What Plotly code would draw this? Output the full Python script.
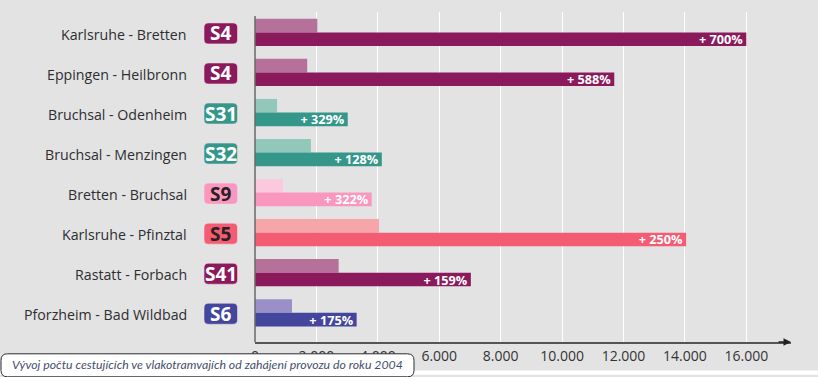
import plotly.graph_objects as go

routes = ["Karlsruhe - Bretten", "Eppingen - Heilbronn", "Bruchsal - Odenheim", "Bruchsal - Menzingen",
          "Bretten - Bruchsal", "Karlsruhe - Pfinztal", "Rastatt - Forbach", "Pforzheim - Bad Wildbad"]
lines = ["S4", "S4", "S31", "S32", "S9", "S5", "S41", "S6"]
before = [2030, 1700, 720, 1820, 910, 4040, 2725, 1205]
after = [16000, 11700, 3020, 4130, 3800, 14040, 7030, 3310]
growth = ["+ 700%", "+ 588%", "+ 329%", "+ 128%", "+ 322%", "+ 250%", "+ 159%", "+ 175%"]
dark = ["#8b1a5c", "#8b1a5c", "#35978a", "#35978a", "#f997bf", "#f35c72", "#8b1a5c", "#43469c"]
light = ["#b5719a", "#b5719a", "#92c8b9", "#92c8b9", "#fbc8dc", "#f6a5a8", "#b5719a", "#9a8fc6"]
badge_text = ["#ffffff", "#ffffff", "#ffffff", "#ffffff", "#2b2024", "#2b2024", "#ffffff", "#ffffff"]
ticks = [0, 2000, 4000, 6000, 8000, 10000, 12000, 14000, 16000]
caption = "Vývoj počtu cestujících ve vlakotramvajích od zahájení provozu do roku 2004"

W, H = 818, 377
L, R, T, B = 255, 27, 12, 33
BG = "#e3e3e4"
FONT = "Open Sans"
pw, ph = W - L - R, H - T - B


def px(x):
    return (x - L) / pw


def py(y):
    return 1 - (y - T) / ph


def rrect(x0, y0, x1, y1, r):
    return (f"M{x0+r},{y0} L{x1-r},{y0} Q{x1},{y0} {x1},{y0+r} L{x1},{y1-r} Q{x1},{y1} {x1-r},{y1} "
            f"L{x0+r},{y1} Q{x0},{y1} {x0},{y1-r} L{x0},{y0+r} Q{x0},{y0} {x0+r},{y0} Z")


fig = go.Figure()
idx = list(range(len(routes)))
fig.add_bar(y=idx, x=before, orientation="h", marker=dict(color=light, line_width=0), hoverinfo="skip")
fig.add_bar(y=idx, x=after, orientation="h", marker=dict(color=dark, line_width=0), text=growth,
            textposition="inside", insidetextanchor="end", textangle=0, constraintext="none",
            textfont=dict(family=FONT, size=12.7, color="white", weight="bold"), hoverinfo="skip")

shapes, annotations = [], []
for i, (route, line) in enumerate(zip(routes, lines)):
    annotations.append(dict(x=px(188.5), y=i, xref="paper", yref="y", text=route, showarrow=False, xanchor="right",
                            yanchor="middle", yshift=-2, font=dict(family=FONT, size=14.2, color="#2e2e30")))
    shapes.append(dict(type="path", xref="paper", yref="y", xsizemode="pixel", ysizemode="pixel",
                       xanchor=px(204), yanchor=i, path=rrect(0, -11.5, 33.5, 9.5, 4.5),
                       fillcolor=dark[i], line=dict(color="#f0d8e2", width=0.6), layer="above"))
    annotations.append(dict(x=px(220.8), y=i, xref="paper", yref="y", text=f"<b>{line}</b>", showarrow=False,
                            xanchor="center", yanchor="middle", yshift=-1,
                            font=dict(family=FONT, size=19, color=badge_text[i])))

# y axis line, white bottom strip, caption box
shapes.append(dict(type="line", xref="paper", yref="paper", x0=px(255), x1=px(255), y0=py(344), y1=py(16),
                   line=dict(color="#68686a", width=1.5), layer="above"))
shapes.append(dict(type="rect", xref="paper", yref="paper", x0=px(0), x1=px(818), y0=py(377), y1=py(372.7),
                   fillcolor="white", line_width=0, layer="above"))
shapes.append(dict(type="path", xref="paper", yref="paper", xsizemode="pixel", ysizemode="pixel",
                   xanchor=px(0), yanchor=py(377), path=rrect(1, -2, 414, 21, 6.5),
                   fillcolor="white", line=dict(color="#2c2c2e", width=1), layer="above"))
annotations.append(dict(x=px(207), y=py(367), xref="paper", yref="paper", text=f"<i>{caption}</i>", showarrow=False,
                        xanchor="center", yanchor="middle",
                        font=dict(family="Lato", size=12.3, color="#44506e")))
# arrow head on the x axis
annotations.append(dict(x=px(791), y=py(344), xref="paper", yref="paper", ax=-14, ay=0, axref="pixel", ayref="pixel",
                        text="", showarrow=True, arrowhead=2, arrowsize=1, arrowwidth=1.5, arrowcolor="#222222",
                        standoff=0))

fig.update_layout(
    width=W, height=H, autosize=False, margin=dict(l=L, r=R, t=T, b=B, pad=0),
    paper_bgcolor=BG, plot_bgcolor=BG, barmode="group", bargap=0.32, bargroupgap=0,
    showlegend=False, separators=",.", shapes=shapes, annotations=annotations,
    font=dict(family=FONT),
    xaxis=dict(range=[0, (791 - 255) / 491.3 * 16000], tickmode="array", tickvals=ticks,
               tickformat=",d", showgrid=True, gridcolor="white", gridwidth=1, zeroline=False, showline=True,
               linecolor="#555557", linewidth=1.5, ticks="", tickfont=dict(family=FONT, size=14, color="#333335")),
    yaxis=dict(range=[7.73, -0.51], showticklabels=False, showgrid=False, zeroline=False, showline=False, ticks=""),
)
fig.write_html("out.html", config=dict(displayModeBar=False),
               post_script="document.body.style.margin='0';document.body.style.overflow='hidden';")
